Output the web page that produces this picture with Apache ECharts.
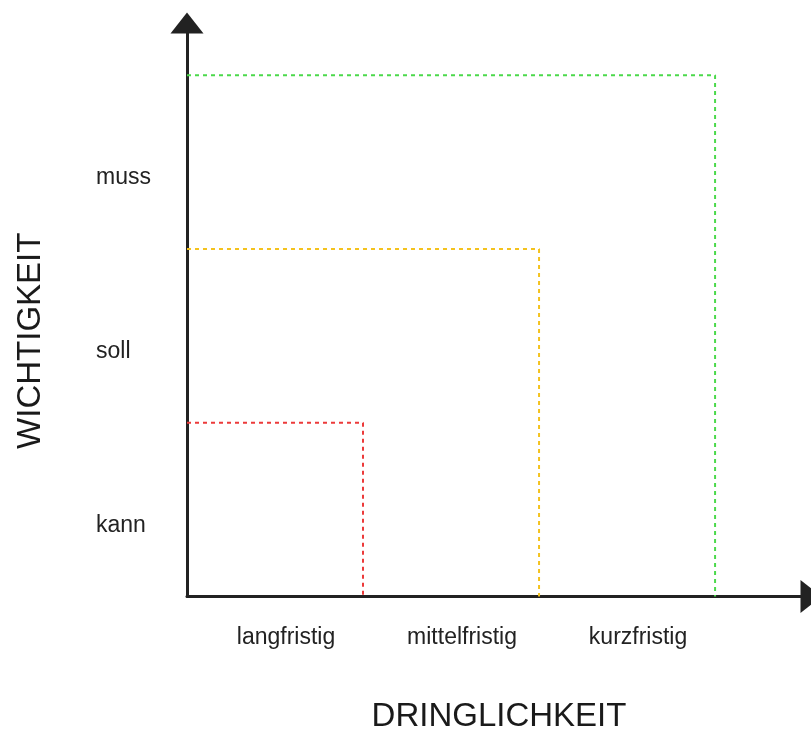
<!DOCTYPE html>
<html>
<head>
<meta charset="utf-8">
<script src="https://cdn.jsdelivr.net/npm/echarts@6/dist/echarts.min.js"></script>
<style>
  html, body { margin: 0; padding: 0; background: #fff; }
  #chartData { width: 811px; height: 738px; }
</style>
</head>
<body>
<div id="chartData"></div>
<script>
// Achsenbeschriftungen
var xLabels = ['langfristig', 'mittelfristig', 'kurzfristig'];
var yLabels = ['kann', 'soll', 'muss'];
// Größe der gestrichelten Felder (Dringlichkeit = Wichtigkeit)
var boxLevels = [1, 2, 3];
var boxNames = ['kann', 'soll', 'muss'];
var boxColors = ['#ec3a3a', '#f4c21e', '#4bd94b'];

var font = '"Liberation Sans", Arial, sans-serif';

// 基于准备好的dom，初始化echarts实例
var myChart = echarts.init(document.getElementById('chartData'));

var series = boxLevels.map(function (lv, i) {
    return {
        name: boxNames[i],
        type: 'line',
        symbol: 'none',
        silent: true,
        lineStyle: { color: boxColors[i], width: 2, type: [4, 4] },
        data: [[0, lv], [lv, lv], [lv, 0]]
    };
});

function halfLabel(list) {
    return function (v) {
        var k = Math.round(v * 2);
        if (k % 2 === 1) {
            return list[(k - 1) / 2] || '';
        }
        return '';
    };
}

var option = {
    animation: false,
    grid: { left: 187, right: 0, top: 23, bottom: 134 },
    xAxis: {
        type: 'value',
        min: 0,
        max: 3.545,
        interval: 0.5,
        name: 'DRINGLICHKEIT',
        nameLocation: 'middle',
        nameGap: 120,
        nameTextStyle: { fontFamily: font, fontSize: 33, color: '#1a1a1a', verticalAlign: 'middle' },
        axisLine: {
            lineStyle: { color: '#222', width: 3 },
            symbol: ['none', 'triangle'],
            symbolSize: [33, 21]
        },
        axisTick: { show: false },
        splitLine: { show: false },
        axisLabel: {
            formatter: halfLabel(xLabels),
            margin: 41,
            verticalAlign: 'middle',
            padding: [0, 0, 0, 22],
            fontFamily: font,
            fontSize: 23,
            color: '#222',
            showMaxLabel: false
        }
    },
    yAxis: {
        type: 'value',
        min: 0,
        max: 3.30,
        interval: 0.5,
        name: 'WICHTIGKEIT',
        nameLocation: 'middle',
        nameGap: 156,
        nameRotate: 90,
        nameTextStyle: { fontFamily: font, fontSize: 33, color: '#1a1a1a', verticalAlign: 'middle', padding: [0, 62, 0, 0] },
        axisLine: {
            lineStyle: { color: '#222', width: 3 },
            symbol: ['none', 'triangle'],
            symbolSize: [33, 21]
        },
        axisTick: { show: false },
        splitLine: { show: false },
        axisLabel: {
            formatter: halfLabel(yLabels),
            margin: 91,
            align: 'left',
            verticalAlign: 'top',
            lineHeight: 32,
            fontFamily: font,
            fontSize: 23,
            color: '#222',
            showMaxLabel: false
        }
    },
    series: series
};

// 使用刚指定的配置项和数据显示图表。
myChart.setOption(option);
</script>
</body>
</html>
